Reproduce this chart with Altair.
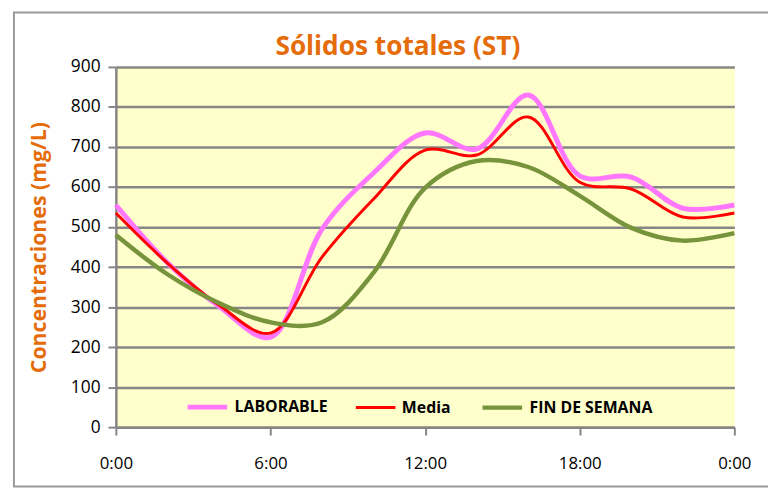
import altair as alt
import pandas as pd

hours = [0, 2, 4, 6, 8, 10, 12, 14, 16, 18, 20, 22, 24]
laborable = [555, 411, 302, 225, 495, 635, 735, 695, 830, 628, 625, 547, 555]
media = [535, 410, 305, 235, 425, 570, 692, 680, 775, 612, 595, 525, 535]
fin_semana = [480, 382, 310, 262, 262, 386, 598, 665, 650, 578, 498, 466, 485]

series_names = ["LABORABLE", "Media", "FIN DE SEMANA"]
series_colors = ["#FF77FF", "#FF0000", "#77933C"]
series_widths = [5, 3, 4.5]
title_text = "Sólidos totales (ST)"

rows = []
for name, vals in zip(series_names, [laborable, media, fin_semana]):
    for h, v in zip(hours, vals):
        rows.append({"hora": h, "valor": v, "serie": name})
df = pd.DataFrame(rows)

FONT = "Open Sans"
ORANGE = "#E46C0A"
GRAY = "#868686"

lines = alt.Chart(df).mark_line(interpolate="catmull-rom").encode(
    x=alt.X("hora:Q", scale=alt.Scale(domain=[0, 24], nice=False),
            axis=alt.Axis(values=[0, 6, 12, 18, 24], title=None, grid=False,
                          labelExpr="(datum.value % 24) + ':00'", labelFlush=False,
                          labelFontSize=17, labelPadding=21, tickSize=8,
                          labelFont=FONT)),
    y=alt.Y("valor:Q", scale=alt.Scale(domain=[0, 900], nice=False),
            axis=alt.Axis(values=list(range(0, 901, 100)),
                          title="Concentraciones (mg/L)", titleColor=ORANGE,
                          titleFontSize=21.5, titleFontWeight="bold", titleFont=FONT,
                          titlePadding=20, labelFontSize=17.5, labelPadding=8,
                          tickSize=8, labelFont=FONT)),
    color=alt.Color("serie:N", sort=series_names,
                    scale=alt.Scale(domain=series_names, range=series_colors),
                    legend=alt.Legend(title=None, orient="none", direction="horizontal",
                                      legendX=70, legendY=321, symbolType="stroke",
                                      symbolSize=1600, labelFontSize=16,
                                      labelFontWeight="bold", labelColor="#000000",
                                      labelFont=FONT, labelOffset=5, columnPadding=22)),
    strokeWidth=alt.StrokeWidth("serie:N", sort=series_names,
                                scale=alt.Scale(type="ordinal", domain=series_names,
                                                range=series_widths),
                                legend=None),
    order=alt.Order("hora:Q"),
)

single = pd.DataFrame({"titulo": [title_text]})
frame = alt.Chart(single).mark_rect(filled=False, stroke="#999999", strokeWidth=2).encode(
    x=alt.value(-103), x2=alt.value(700), y=alt.value(-55), y2=alt.value(424)
)
title = alt.Chart(single).mark_text(
    font=FONT, fontSize=26.5, fontWeight="bold", color=ORANGE,
    align="center", baseline="alphabetic"
).encode(x=alt.value(285), y=alt.value(-12), text="titulo:N")

chart = alt.layer(frame, lines, title).properties(
    width=625, height=364,
    autosize=alt.AutoSizeParams(type="none"),
    padding={"left": 109, "top": 57, "right": 34, "bottom": 66},
    background="white",
).configure_view(fill="#FFFFCC", stroke="transparent").configure_axis(
    domainColor=GRAY, domainWidth=2.5, tickColor=GRAY, tickWidth=2,
    gridColor=GRAY, gridWidth=2.5, labelColor="#000000", gridOpacity=1
)

chart.save("out.html", embed_options={"renderer": "svg", "actions": False})
